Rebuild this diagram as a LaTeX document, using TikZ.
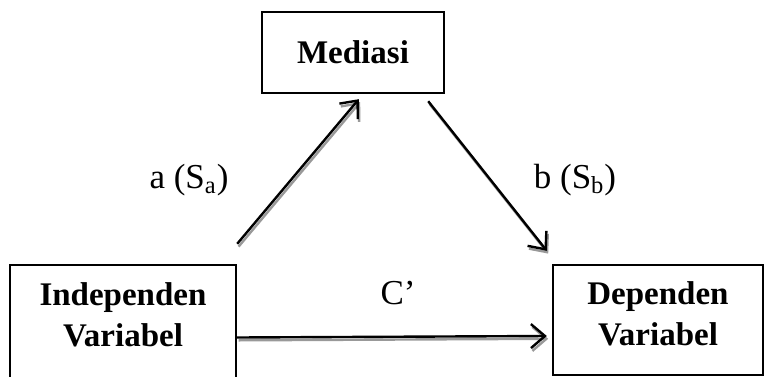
\documentclass[tikz,border=0pt]{standalone}
\usepackage{fontspec}
\setmainfont{Liberation Serif}
\usetikzlibrary{arrows.meta,calc}
\tikzset{
  varbox/.style={draw,line width=1.2pt,align=center,inner sep=0pt,
    font=\bfseries\fontsize{16.5}{20.5}\selectfont},
  link/.style={line width=1.2pt,-{Straight Barb[length=7pt,width=12pt,line join=miter]},
    preaction={draw=black!40,line width=1.2pt,transform canvas={xshift=0.7pt,yshift=-1.4pt}}},
  lbl/.style={font=\fontsize{17.5}{21}\selectfont}
}

\begin{document}
\begin{tikzpicture}[x=0.5pt,y=-0.5pt]
  \useasboundingbox (0,0) rectangle (766,376);
  % boxes
  \node[varbox,minimum width=91pt,minimum height=40.5pt] (med) at (353,52.5) {Mediasi};
  \node[varbox,minimum width=113pt,minimum height=56.5pt,text depth=7pt] (indep) at (123,321.5) {Independen\\Variabel};
  \node[varbox,minimum width=105pt,minimum height=55pt,text depth=6pt] (dep) at (658,320) {Dependen\\Variabel};
  % paths
  \draw[link] ([yshift=10pt]indep.north east) -- ([shift={(49pt,-2.5pt)}]med.south west);
  \draw[link] ([shift={(-8.5pt,-3.5pt)}]med.south east) -- ([shift={(-2.5pt,6.5pt)}]dep.north west);
  \draw[link] ([yshift=-8pt]indep.east) -- ([shift={(-2.5pt,-8pt)}]dep.west);
  \node[lbl] (la) at (189,180) {a (S\textsubscript{a})};
  \node[lbl] (lb) at (575,180) {b (S\textsubscript{b})};
  \node[lbl] (lc) at (398,293) {C’};
\end{tikzpicture}
\end{document}
